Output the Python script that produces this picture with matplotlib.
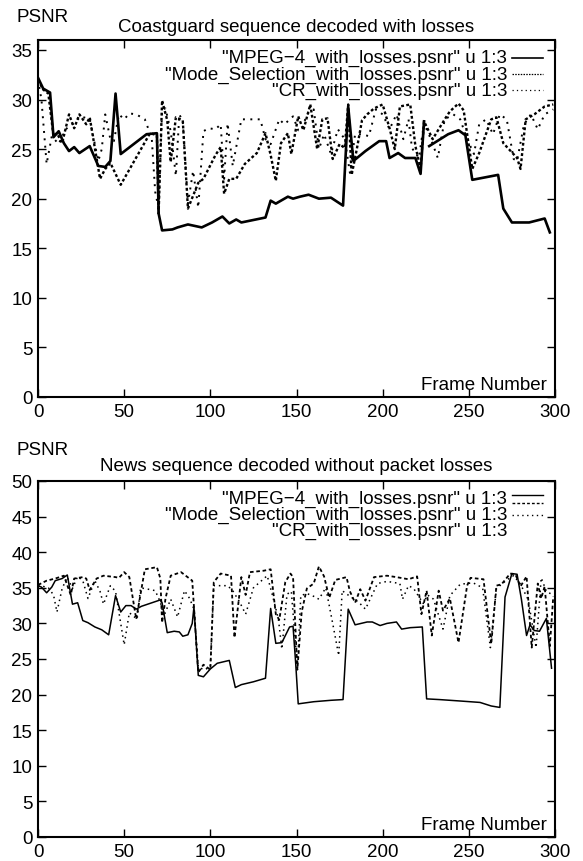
import numpy as np
import matplotlib
matplotlib.use("Agg")
import matplotlib.pyplot as plt
from matplotlib.lines import Line2D

plt.rcParams['font.family'] = ['Liberation Sans', 'DejaVu Sans']

nan = np.nan
# ---------------- Top panel: Coastguard with losses ----------------
top_title = "Coastguard sequence decoded with losses"
top_mpeg_f = [0, 3, 7, 9, 12, 15, 18, 21, 24, 30, 35, 39, 42, 45, 48, 63, 69, 70, 72, 78, 81, 87,
              95, 101, 107, 111, 115, 118, 132, 135, 138, 145, 148, 152, 157, 163, 170, 177, 180,
              183, 190, 198, 202, 204, 209, 213, 219, 222, 224, 225, 227, 238, 244, 248, 252,
              267, 270, 275, 285, 294, 297]
top_mpeg_v = [32.2, 31.1, 30.7, 26.2, 26.8, 25.6, 24.8, 25.2, 24.6, 25.3, 23.3, 23.2, 23.8, 30.6,
              24.5, 26.5, 26.6, 18.5, 16.8, 16.9, 17.1, 17.4, 17.1, 17.6, 18.2, 17.5, 17.9, 17.6,
              18.1, 19.8, 19.5, 20.2, 20.0, 20.2, 20.4, 20.0, 20.1, 19.3, 29.3, 23.8, 24.8, 25.8,
              25.8, 24.1, 24.6, 24.1, 24.1, 22.5, 27.8, nan, 25.3, 26.5, 26.9, 26.4, 21.9, 22.4,
              19.0, 17.6, 17.6, 18.0, 16.6]
top_ms_f = [0, 3, 6, 9, 11, 14, 18, 21, 24, 28, 30, 36, 39, 42, 48, 65, 69, 70, 72, 75, 77, 80,
            84, 87, 90, 93, 96, 103, 106, 108, 111, 115, 120, 127, 132, 135, 138, 141, 145, 147,
            151, 154, 158, 162, 165, 168, 171, 175, 178, 180, 182, 185, 188, 191, 195, 200, 204,
            207, 210, 216, 219, 222, 224, 229, 236, 239, 244, 247, 252, 256, 263, 266, 270, 278,
            280, 283, 288, 294, 299]
top_ms_v = [32.0, 31.0, 30.6, 26.3, 26.6, 25.6, 28.5, 27.1, 28.5, 27.5, 28.2, 22.0, 23.0, 23.6,
            21.4, 26.6, 26.4, 18.5, 29.9, 27.9, 23.7, 28.2, 27.9, 19.0, 20.3, 21.6, 22.0, 24.4,
            25.2, 20.5, 22.0, 22.0, 23.5, 24.6, 26.6, 24.4, 21.8, 25.6, 26.6, 24.5, 28.3, 26.9,
            29.5, 25.0, 28.0, 28.1, 24.0, 25.5, 25.1, 29.5, 22.4, 25.0, 27.9, 28.5, 29.1, 29.5,
            27.1, 25.0, 29.3, 29.5, 25.3, 23.0, 27.8, 26.0, 28.0, 28.8, 29.6, 28.9, 23.0, 24.6,
            28.0, 28.2, 25.6, 24.1, 23.0, 28.0, 28.5, 29.3, 29.5]
top_cr_f = [0, 2, 5, 8, 12, 16, 20, 25, 30, 35, 37, 39, 42, 44, 47, 50, 53, 57, 62, 66, 68, 70,
            72, 74, 77, 80, 82, 84, 87, 90, 93, 96, 99, 103, 106, 108, 110, 113, 118, 124, 129,
            132, 135, 140, 143, 148, 151, 153, 156, 160, 163, 166, 170, 174, 178, 181, 184, 188,
            192, 196, 200, 204, 208, 212, 215, 217, 221, 224, 228, 232, 236, 241, 245, 249, 253,
            256, 260, 264, 268, 272, 276, 278, 282, 286, 290, 294, 299]
top_cr_v = [32.0, 30.0, 23.5, 26.3, 25.5, 27.0, 27.5, 28.3, 28.0, 23.8, 25.0, 28.5, 26.0, 25.8,
            28.5, 28.0, 28.6, 28.5, 28.0, 26.1, 20.7, 19.0, 29.0, 29.1, 26.8, 22.3, 28.5, 27.8,
            19.5, 22.8, 19.1, 26.8, 27.1, 27.0, 27.5, 22.0, 27.6, 23.3, 28.0, 28.0, 28.0, 26.0,
            25.5, 28.0, 27.5, 28.3, 26.9, 26.9, 28.5, 29.0, 25.0, 26.5, 24.5, 27.0, 26.0, 22.6,
            26.5, 26.5, 26.3, 29.0, 28.5, 27.0, 28.5, 26.0, 28.0, 25.1, 24.1, 27.6, 26.0, 24.1,
            28.0, 28.5, 28.0, 26.0, 24.5, 27.5, 28.0, 26.5, 28.5, 28.0, 24.0, 23.8, 27.5, 28.5,
            27.0, 28.5, 29.0]

# ---------------- Bottom panel: News without losses ----------------
bot_title = "News sequence decoded without packet losses"
bot_mpeg_f = [0, 2, 5, 8, 10, 14, 17, 20, 23, 26, 29, 33, 37, 41, 45, 48, 51, 54, 57, 60, 71, 72,
              75, 79, 82, 84, 87, 89.5, 90.5, 93, 96, 100, 104, 111, 114.5, 118, 125, 132, 135,
              138, 141.5, 146, 148, 149.5, 151, 160, 170, 177, 180, 184, 191, 194, 198.5, 202.5,
              208, 211, 216, 223, 225.5, 233, 245, 256.5, 263, 268, 271, 275, 278, 280.5, 283.5,
              285.5, 288, 291, 295, 298]
bot_mpeg_v = [35.3, 35.1, 34.3, 35.1, 36.0, 36.3, 36.8, 32.7, 32.9, 30.4, 30.1, 29.5, 29.1, 28.4,
              33.9, 31.6, 32.5, 32.5, 32.0, 32.4, 33.3, 32.9, 28.7, 28.9, 28.8, 28.2, 28.4, 30.0,
              32.3, 22.7, 22.5, 23.6, 24.4, 24.8, 21.0, 21.4, 21.8, 22.3, 32.1, 27.2, 27.3, 29.5,
              29.6, 24.5, 18.7, 19.0, 19.2, 19.3, 32.0, 29.8, 30.2, 30.2, 29.7, 30.0, 30.2, 29.2,
              29.4, 29.5, 19.4, 19.3, 19.1, 18.9, 18.4, 18.2, 33.7, 37.0, 36.9, 33.4, 28.3, 29.8,
              29.0, 28.9, 30.7, 23.7]
bot_ms_f = [0, 5, 10, 15, 19, 21, 26, 28, 30, 34, 38, 45, 47, 50, 53, 57, 62, 69, 71, 72, 74, 77,
            83, 89.5, 90.5, 93, 96, 100, 102, 106, 112, 114, 118, 120.5, 123, 131, 135, 138, 140,
            143.5, 146.5, 148, 150.5, 153, 156, 160, 163, 166, 169, 172.5, 179, 181, 184, 187,
            190, 195, 202.5, 208, 215, 220, 222.5, 225.5, 228.5, 232.5, 235, 239, 244, 249, 251,
            258.5, 263, 266, 269, 274, 277, 280, 283.5, 286.5, 290, 292, 294, 297, 299]
bot_ms_v = [35.4, 36.0, 36.3, 36.7, 34.0, 36.3, 36.5, 36.3, 34.7, 36.3, 36.7, 36.5, 36.4, 37.2,
            36.5, 30.6, 37.6, 37.9, 36.3, 30.1, 33.5, 36.7, 37.2, 36.0, 32.3, 23.1, 24.2, 23.5,
            35.8, 37.0, 36.7, 28.0, 36.5, 34.0, 37.2, 37.4, 37.6, 31.3, 30.5, 35.8, 37.0, 36.5,
            23.5, 31.6, 34.9, 35.6, 38.0, 36.6, 33.6, 36.1, 36.5, 34.5, 32.9, 34.8, 33.2, 36.5,
            36.7, 36.5, 36.2, 36.6, 31.3, 34.6, 28.3, 34.6, 31.8, 33.5, 27.3, 35.3, 36.4, 36.2,
            27.1, 35.3, 35.5, 37.0, 36.9, 35.2, 36.6, 26.6, 35.6, 33.5, 35.2, 26.8, 33.8]
bot_cr_f = [0, 3, 6, 9, 11, 14, 17, 20, 23, 26, 29, 33, 36, 38, 42, 45, 50, 53, 57.5, 59.5, 64,
            68, 71, 73, 77, 81, 85, 88, 90.5, 93, 97, 100, 102, 110, 113, 117, 120.5, 125, 133,
            136, 139.5, 141.5, 144.5, 147, 150.5, 152.5, 156, 160, 163, 167, 171, 174.5, 176.5,
            181, 186, 190, 197, 202.5, 210, 211.5, 215, 218, 223.5, 226, 229.5, 235, 239, 245,
            252.5, 258, 262.5, 266, 272, 276, 280, 284.5, 289, 292, 295, 298]
bot_cr_v = [35.4, 35.2, 35.0, 34.0, 31.6, 34.9, 36.5, 34.9, 36.6, 36.0, 33.5, 36.0, 34.5, 32.7,
            35.3, 34.5, 27.0, 31.5, 30.6, 35.0, 34.8, 34.6, 33.0, 31.0, 33.4, 30.9, 34.6, 33.5,
            32.0, 23.8, 23.5, 24.0, 35.3, 35.3, 34.6, 33.0, 31.3, 35.0, 36.7, 34.0, 30.6, 26.4,
            34.1, 34.5, 23.8, 33.9, 34.2, 33.8, 33.4, 35.0, 30.0, 25.5, 34.6, 33.8, 33.0, 32.0,
            35.6, 35.9, 35.6, 33.4, 35.3, 34.9, 32.8, 34.0, 33.4, 29.2, 33.9, 35.5, 35.7, 35.0,
            26.6, 34.9, 36.1, 36.7, 35.5, 33.3, 26.6, 36.4, 34.5, 34.1]

legend_labels = ['"MPEG\u22124_with_losses.psnr" u 1:3',
                 '"Mode_Selection_with_losses.psnr" u 1:3',
                 '"CR_with_losses.psnr" u 1:3']
x_ticks = [0, 50, 100, 150, 200, 250, 300]
top_y_ticks = [0, 5, 10, 15, 20, 25, 30, 35]
bot_y_ticks = [0, 5, 10, 15, 20, 25, 30, 35, 40, 45, 50]

W, H = 583, 862
fig = plt.figure(figsize=(W / 100, H / 100), dpi=100)
L, R = 38, 555
ax1 = fig.add_axes([L / W, 1 - 398 / H, (R - L) / W, 357 / H])
ax2 = fig.add_axes([L / W, 1 - 838 / H, (R - L) / W, 356 / H])

FS = 13.5


def style(ax, yt, ylim):
    ax.set_xlim(0, 300)
    ax.set_ylim(*ylim)
    ax.set_xticks(x_ticks)
    ax.set_yticks(yt)
    ax.tick_params(direction='in', top=True, right=True, length=6, width=1.0,
                   labelsize=FS, pad=4, colors='black')
    for s in ax.spines.values():
        s.set_linewidth(1.5)
    ax.text(0.985, 0.012, "Frame Number", transform=ax.transAxes, ha='right',
            va='bottom', fontsize=FS)


# Top panel
ax1.plot(top_mpeg_f, top_mpeg_v, color='black', lw=1.9, solid_joinstyle='round')
ax1.plot(top_ms_f, top_ms_v, color='black', lw=1.7, linestyle=(0, (1.2, 1.0)))
ax1.plot(top_cr_f, top_cr_v, color='black', lw=1.4, linestyle=(0, (1.0, 2.8)))
style(ax1, top_y_ticks, (0, 36))
fig.text(296 / W, 1 - 27 / H, top_title, fontsize=FS, ha='center', va='center')
fig.text(16 / W, 1 - 18 / H, "PSNR", fontsize=FS, ha='left', va='center')

# Bottom panel
ax2.plot(bot_mpeg_f, bot_mpeg_v, color='black', lw=1.1)
ax2.plot(bot_ms_f, bot_ms_v, color='black', lw=1.3, linestyle=(0, (2.0, 1.5)))
ax2.plot(bot_cr_f, bot_cr_v, color='black', lw=1.1, linestyle=(0, (1.0, 2.5)))
style(ax2, bot_y_ticks, (0, 50))
fig.text(296 / W, 1 - 467 / H, bot_title, fontsize=FS, ha='center', va='center')
fig.text(16 / W, 1 - 451 / H, "PSNR", fontsize=FS, ha='left', va='center')

# Legends (gnuplot-style keys)
rows = [0.950, 0.905, 0.860]
tx = (507 - L) / (R - L)
lx0, lx1 = (512 - L) / (R - L), (543 - L) / (R - L)
for lab, y in zip(legend_labels, rows):
    ax1.text(tx, y, lab, transform=ax1.transAxes, ha='right', va='center', fontsize=FS)
    ax2.text(tx, y, lab, transform=ax2.transAxes, ha='right', va='center', fontsize=FS)
ax1.add_line(Line2D([lx0, lx1], [rows[0]] * 2, transform=ax1.transAxes, color='black', lw=1.2))
ax1.add_line(Line2D([lx0, lx1], [rows[1]] * 2, transform=ax1.transAxes, color='black', lw=0.9,
                    linestyle=(0, (1.2, 1.0))))
ax1.add_line(Line2D([lx0, lx1], [rows[2]] * 2, transform=ax1.transAxes, color='black', lw=0.9,
                    linestyle=(0, (1.0, 2.5))))
ax2.add_line(Line2D([lx0, lx1], [rows[0] + 0.01] * 2, transform=ax2.transAxes, color='black', lw=1.0))
ax2.add_line(Line2D([lx0, lx1], [rows[0] - 0.012] * 2, transform=ax2.transAxes, color='black', lw=1.0,
                    linestyle=(0, (2.0, 1.5))))
ax2.add_line(Line2D([lx0, lx1], [rows[1]] * 2, transform=ax2.transAxes, color='black', lw=1.0,
                    linestyle=(0, (1.0, 2.5))))

fig.savefig("out.png", dpi=100)
